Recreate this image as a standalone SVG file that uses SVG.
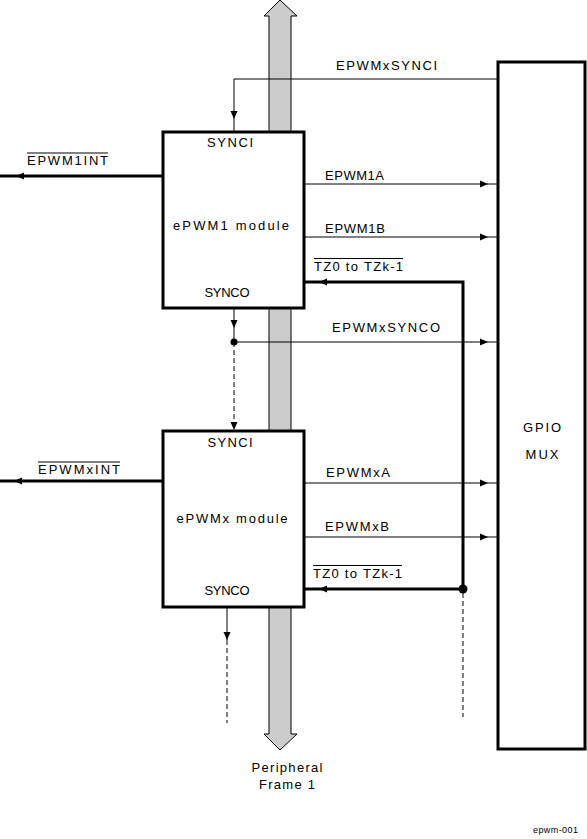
<svg xmlns="http://www.w3.org/2000/svg" width="587" height="839" viewBox="0 0 587 839">
<style>
text{font-family:"Liberation Sans",Arial,sans-serif;font-size:13px;fill:#000}
.box{fill:#fff;stroke:#000;stroke-width:3}
.thin{stroke:#000;stroke-width:1;fill:none}
.thick{stroke:#000;stroke-width:3;fill:none}
.dash{stroke:#000;stroke-width:1;fill:none;stroke-dasharray:5 3}
.ov{stroke:#000;stroke-width:1}
</style>
<defs>
<marker id="arr" markerUnits="userSpaceOnUse" markerWidth="9" markerHeight="8" refX="8" refY="4" orient="auto">
<path d="M0,0.5 L8,4 L0,7.5 z" fill="#000"/>
</marker>
</defs>
<g id="bus">
<polygon points="280,0 297,16 291,16 291,734 297,734 280,750 264,734 269,734 269,16 264,16" fill="#cccccc" stroke="#000" stroke-width="1"/>
<text x="287" y="772" text-anchor="middle" textLength="71">Peripheral</text>
<text x="287" y="789" text-anchor="middle" textLength="56">Frame 1</text>
</g>
<g id="connectors">
<path class="thin" d="M497,79 H234 V119" marker-end="url(#arr)"/>
<line class="thin" x1="234" y1="119" x2="234" y2="132"/>
<line class="thick" x1="163" y1="176" x2="16" y2="176" marker-end="url(#arr)"/>
<line class="thick" x1="16" y1="176" x2="0" y2="176"/>
<line class="thin" x1="304" y1="184" x2="488" y2="184" marker-end="url(#arr)"/>
<line class="thin" x1="488" y1="184" x2="497" y2="184"/>
<line class="thin" x1="304" y1="237" x2="488" y2="237" marker-end="url(#arr)"/>
<line class="thin" x1="488" y1="237" x2="497" y2="237"/>
<path class="thick" d="M463,590 V282 H319" marker-end="url(#arr)"/>
<line class="thick" x1="319" y1="282" x2="304" y2="282"/>
<line class="thin" x1="234" y1="308" x2="234" y2="328" marker-end="url(#arr)"/>
<line class="thin" x1="234" y1="328" x2="234" y2="342"/>
<circle cx="234" cy="342" r="3.5" fill="#000"/>
<line class="thin" x1="234" y1="342" x2="488" y2="342" marker-end="url(#arr)"/>
<line class="thin" x1="488" y1="342" x2="497" y2="342"/>
<line class="dash" x1="234" y1="342" x2="234" y2="430" marker-end="url(#arr)"/>
<line class="thick" x1="163" y1="481" x2="14" y2="481" marker-end="url(#arr)"/>
<line class="thick" x1="14" y1="481" x2="0" y2="481"/>
<line class="thin" x1="304" y1="483" x2="488" y2="483" marker-end="url(#arr)"/>
<line class="thin" x1="488" y1="483" x2="497" y2="483"/>
<line class="thin" x1="304" y1="537" x2="488" y2="537" marker-end="url(#arr)"/>
<line class="thin" x1="488" y1="537" x2="497" y2="537"/>
<line class="thick" x1="463" y1="589" x2="319" y2="589" marker-end="url(#arr)"/>
<line class="thick" x1="319" y1="589" x2="304" y2="589"/>
<circle cx="463" cy="589" r="4.5" fill="#000"/>
<line class="dash" x1="463" y1="593" x2="463" y2="717"/>
<line class="thin" x1="227" y1="607" x2="227" y2="640" marker-end="url(#arr)"/>
<line class="dash" x1="227" y1="640" x2="227" y2="723"/>
<text x="336" y="70" textLength="101">EPWMxSYNCI</text>
<text x="27" y="165" textLength="81">EPWM1INT</text>
<line class="ov" x1="27" y1="153" x2="108" y2="153"/>
<text x="325" y="180" textLength="59">EPWM1A</text>
<text x="325" y="233" textLength="60">EPWM1B</text>
<text x="314" y="271" textLength="89">TZ0 to TZk-1</text>
<line class="ov" x1="314" y1="258.5" x2="403" y2="258.5"/>
<text x="332" y="332" textLength="108">EPWMxSYNCO</text>
<text x="38" y="474" textLength="82">EPWMxINT</text>
<line class="ov" x1="38" y1="462" x2="120" y2="462"/>
<text x="326" y="477" textLength="64">EPWMxA</text>
<text x="325" y="531" textLength="64">EPWMxB</text>
<text x="313" y="578" textLength="89">TZ0 to TZk-1</text>
<line class="ov" x1="313" y1="565.5" x2="402" y2="565.5"/>
</g>
<g id="epwm1">
<rect class="box" x="163" y="132" width="141" height="176"/>
<text x="230" y="147" text-anchor="middle" textLength="46">SYNCI</text>
<text x="231" y="230" text-anchor="middle" textLength="116">ePWM1 module</text>
<text x="227" y="297" text-anchor="middle" textLength="45">SYNCO</text>
</g>
<g id="epwmx">
<rect class="box" x="163" y="431" width="141" height="176"/>
<text x="230" y="447" text-anchor="middle" textLength="45">SYNCI</text>
<text x="232" y="523" text-anchor="middle" textLength="111">ePWMx module</text>
<text x="227" y="595" text-anchor="middle" textLength="45">SYNCO</text>
</g>
<g id="gpiomux">
<rect class="box" x="498" y="62" width="87" height="687"/>
<text x="542" y="432" text-anchor="middle" textLength="38">GPIO</text>
<text x="542" y="459" text-anchor="middle" textLength="33">MUX</text>
</g>
<text x="578" y="833" text-anchor="end" style="font-size:9px" textLength="45">epwm-001</text>
</svg>
